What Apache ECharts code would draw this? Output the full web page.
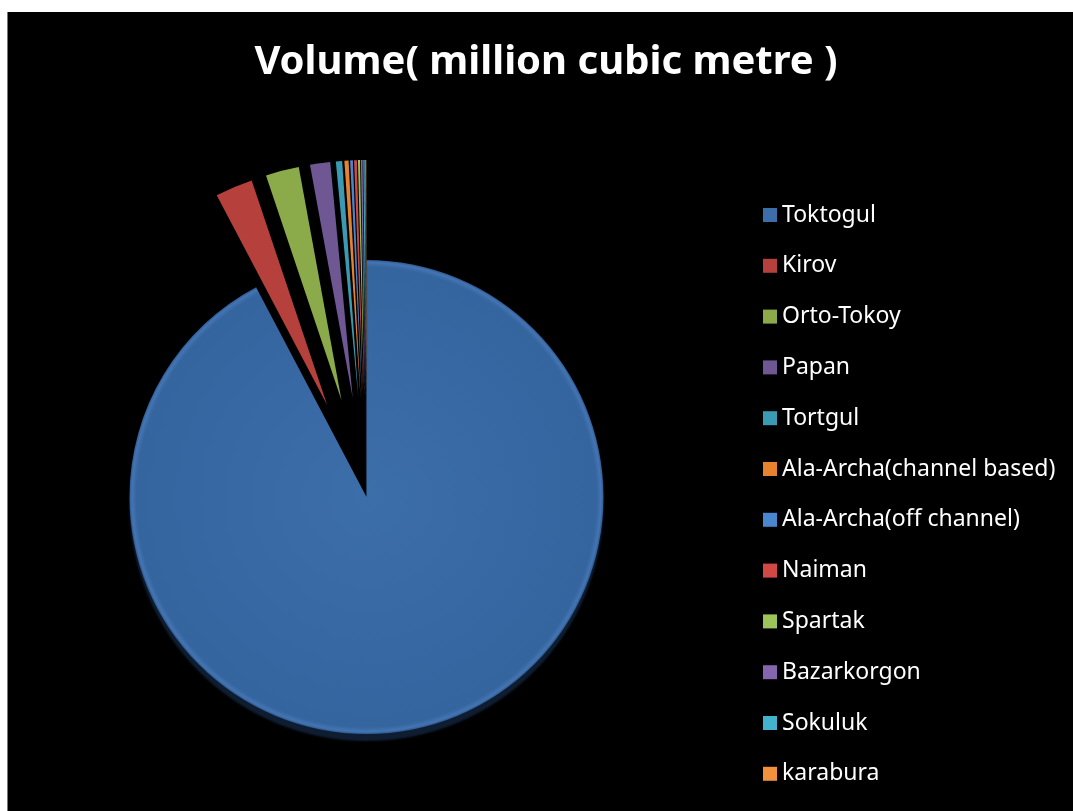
<!DOCTYPE html>
<html>
<head>
<meta charset="utf-8">
<script src="https://cdn.jsdelivr.net/npm/echarts@6/dist/echarts.min.js"></script>
<style>
html,body{margin:0;padding:0;background:#fff;}
#c{width:1073px;height:811px;}
</style>
</head>
<body>
<div id="c"></div>
<script>
const titleText = 'Volume( million cubic metre )';
const categories = ['Toktogul','Kirov','Orto-Tokoy','Papan','Tortgul','Ala-Archa(channel based)','Ala-Archa(off channel)','Naiman','Spartak','Bazarkorgon','Sokuluk','karabura'];
const values = [19500, 540, 480, 290, 90, 60, 40, 40, 30, 25, 20, 15];
const colors = ['#3C6EA9','#B5403C','#8BAA4A','#6E5792','#3A9AB3','#E7832F','#4A86CF','#D24845','#9DC35B','#8366AE','#45B2CD','#F1913E'];

const chart = echarts.init(document.getElementById('c'), null, {renderer:'canvas'});
const data = categories.map((n,i)=>({
  name:n, value:values[i], selected: i>0,
  itemStyle:{
    color: i===0 ? new echarts.graphic.RadialGradient(0.5,0.5,0.5,[{offset:0,color:'#3C6EAA'},{offset:0.97,color:'#35659F'},{offset:0.99,color:'#4474B2'},{offset:1,color:'#2E5A90'}]) : colors[i],
    shadowColor: i===0 ? '#0E1D31' : 'rgba(0,0,0,0.6)', shadowOffsetY: i===0 ? 7 : 3, shadowOffsetX: 0, shadowBlur: 2
  }
}));
chart.setOption({
  backgroundColor:'#000',
  animation:false,
  color: colors,
  title:{
    text:titleText, left:541, top:38, textAlign:'center',
    textStyle:{color:'#fff', fontFamily:'Noto Sans', fontWeight:'bold', fontSize:40}
  },
  legend:{
    orient:'vertical', left:758, top:198.5, itemWidth:14, itemHeight:14, itemGap:27.8,
    icon:'rect', selectedMode:false,
    data: categories.map((n,i)=>({name:n, itemStyle:{color:colors[i]}})),
    textStyle:{color:'#fff', fontFamily:'Noto Sans', fontSize:23, lineHeight:23, padding:[0,0,0,0]}
  },
  graphic:[
    {type:'rect', shape:{x:0,y:0,width:1073,height:12}, style:{fill:'#fff'}, silent:true, z:100},
    {type:'rect', shape:{x:0,y:0,width:7,height:811}, style:{fill:'#fff'}, silent:true, z:100},
    {type:'rect', shape:{x:7,y:12,width:1,height:799}, style:{fill:'#777'}, silent:true, z:100}
  ],
  series:[{
    type:'pie', center:[366.5,497], radius:[0,237], startAngle:90, clockwise:true,
    selectedMode:'multiple', selectedOffset:100,
    label:{show:false}, labelLine:{show:false},
    itemStyle:{borderWidth:0},
    emphasis:{disabled:true},
    data:data
  }]
});
</script>
</body>
</html>
